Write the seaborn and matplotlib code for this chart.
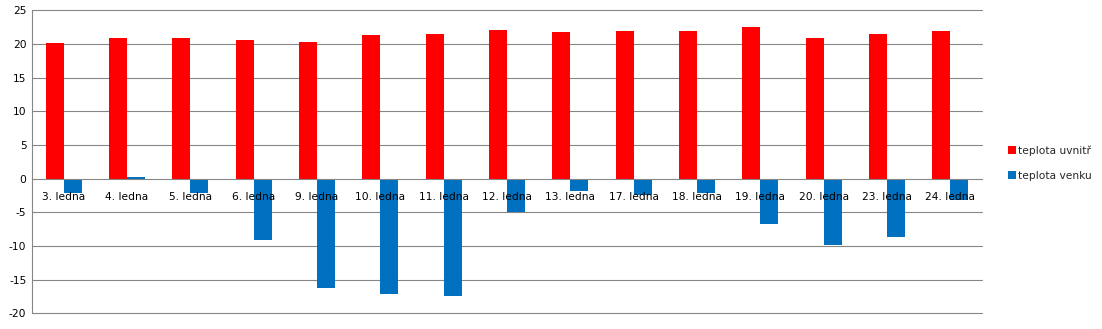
import matplotlib
matplotlib.use("Agg")
import matplotlib.pyplot as plt
import seaborn as sns
import pandas as pd
from matplotlib.patches import Patch

dates = ["3. ledna", "4. ledna", "5. ledna", "6. ledna", "9. ledna", "10. ledna",
         "11. ledna", "12. ledna", "13. ledna", "17. ledna", "18. ledna", "19. ledna",
         "20. ledna", "23. ledna", "24. ledna"]
inside = [20.2, 20.9, 20.9, 20.6, 20.3, 21.3, 21.5, 22.1, 21.8, 21.9, 21.9, 22.5, 20.9, 21.5, 21.9]
outside = [-2.1, 0.2, -2.1, -9.1, -16.3, -17.2, -17.5, -5.0, -1.8, -2.4, -2.1, -6.7, -9.9, -8.6, -3.1]
series_names = ["teplota uvnitř", "teplota venku"]
colors = ["#FF0000", "#0070C0"]
yticks = list(range(-20, 26, 5))

df = pd.DataFrame({
    "date": dates * 2,
    "temp": inside + outside,
    "series": [series_names[0]] * len(dates) + [series_names[1]] * len(dates),
})

sns.set_style("white")
plt.rcParams["font.family"] = ["DejaVu Sans"]

fig = plt.figure(figsize=(11.02, 3.29), dpi=100)
ax = fig.add_axes([32 / 1102, 1 - 313.3 / 329, (982 - 32) / 1102, (313.3 - 10.3) / 329])

sns.barplot(data=df, x="date", y="temp", hue="series", palette=colors,
            width=4 / 7, gap=0, legend=False, ax=ax, order=dates,
            hue_order=series_names, saturation=1, linewidth=0)

ax.set_ylim(-20, 25)
ax.set_xlim(-0.5, len(dates) - 0.5)
ax.set_yticks(yticks)
ax.set_yticklabels([str(v) for v in yticks], fontsize=7.7, color="#000000")
ax.grid(False)
for v in yticks:
    if v != 0:
        ax.axhline(v, color="#868686", linewidth=0.8, zorder=0.5, clip_on=False)
ax.set_axisbelow(False)
ax.set_xlabel("")
ax.set_ylabel("")

# x axis at zero; boundary ticks as major, labels at centers as minor
ax.spines["bottom"].set_position(("data", 0))
for s in ["top", "right"]:
    ax.spines[s].set_visible(False)
ax.spines["bottom"].set_color("#868686")
ax.spines["left"].set_color("#868686")
ax.spines["bottom"].set_linewidth(0.8)
ax.spines["left"].set_linewidth(0.8)

ax.set_xticks([i - 0.5 for i in range(len(dates) + 1)])
ax.set_xticklabels([])
ax.set_xticks(range(len(dates)), minor=True)
ax.set_xticklabels(dates, minor=True, fontsize=7.7, color="#000000")
ax.tick_params(axis="x", which="major", direction="out", length=3.5, color="#868686", width=0.8)
ax.tick_params(axis="x", which="minor", length=0, pad=9.5)
ax.tick_params(axis="y", which="major", direction="out", length=2.5, color="#868686", width=0.8, pad=1.5)

handles = [Patch(facecolor=c, edgecolor="none") for c in colors]
fig.legend(handles, series_names, loc="center left",
           bbox_to_anchor=(998 / 1102, 1 - 163 / 329), frameon=False,
           fontsize=7.7, handlelength=0.75, handleheight=0.75,
           handletextpad=0.25, labelspacing=1.4)

fig.savefig("out.png", dpi=100)
